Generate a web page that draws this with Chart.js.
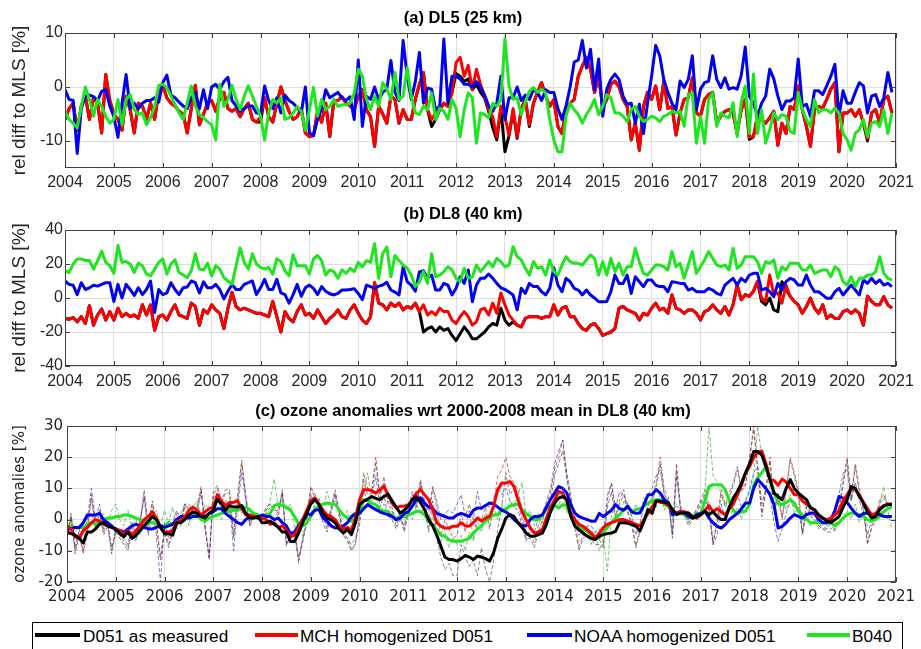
<!DOCTYPE html>
<html>
<head>
<meta charset="utf-8">
<script src="https://cdn.jsdelivr.net/npm/chart.js@4.4.1/dist/chart.umd.min.js"></script>
<style>
  html, body { margin:0; padding:0; background:#fff; }
  #fig { position:relative; width:921px; height:649px; overflow:hidden; background:#fff; }
  #fig canvas { position:absolute; left:0; }
  .ttl { position:absolute; transform:translateX(-50%); font:bold 16.5px "Liberation Sans", Arial, sans-serif; color:#000; white-space:nowrap; line-height:20px; }
  #legend { position:absolute; left:32px; top:622px; width:869px; height:40px; border:1px solid #000; background:#fff; font:17.2px "Liberation Sans", Arial, sans-serif; color:#000; }
  #legend .ln { position:absolute; top:10px; height:4px; }
  #legend .tx { position:absolute; top:3px; line-height:20px; white-space:nowrap; }
</style>
</head>
<body>
<div id="fig">
  <canvas id="chartA" width="921" height="195" style="top:0px"></canvas>
  <canvas id="chartB" width="921" height="195" style="top:195px"></canvas>
  <canvas id="chartC" width="921" height="225" style="top:390px"></canvas>
  <div class="ttl" style="left:463px; top:7px;">(a) DL5 (25 km)</div>
  <div class="ttl" style="left:463px; top:203px;">(b) DL8 (40 km)</div>
  <div class="ttl" style="left:473px; top:400px;">(c) ozone anomalies wrt 2000-2008 mean in DL8 (40 km)</div>
  <div id="legend">
    <div class="ln" style="left:2px; width:45px; background:#000000;"></div>
    <div class="tx" style="left:50px;">D051 as measured</div>
    <div class="ln" style="left:222px; width:43px; background:#ff0000;"></div>
    <div class="tx" style="left:267px;">MCH homogenized D051</div>
    <div class="ln" style="left:494px; width:45px; background:#0000ee;"></div>
    <div class="tx" style="left:541px;">NOAA homogenized D051</div>
    <div class="ln" style="left:774px; width:43px; background:#1ee61e;"></div>
    <div class="tx" style="left:819px;">B040</div>
  </div>
</div>
<script>
// ---------- AXES ----------
const START_YEAR = 2004;
const years = [2004,2005,2006,2007,2008,2009,2010,2011,2012,2013,2014,2015,2016,2017,2018,2019,2020,2021];
const yTicksA = [-10, 0, 10];
const yTicksB = [-40, -20, 0, 20, 40];
const yTicksC = [-20, -10, 0, 10, 20, 30];

// ---------- (a) DL5 (25 km), monthly, one row per year 2004..2020 ----------
const blackA = [
  -6,-4,-3,-8,-3.5,-1.7,-6,-2,-3,-8.5,2.3,-2.5,
  -5,-6,-8,-1.7,-4.2,-8.5,-3,-3.5,-6,-3,-6,-1,
  0.3,-2,-3,-3.5,-4.5,-5,-8.5,-4,0.3,-7,-5,-3,
  -2.5,-4.5,-2,-1,-4,-4.5,-4,-5.5,-4,-3,-6,-6.5,
  -6.5,-2,-5.5,-6.5,-3,0,-2.5,-4.5,-6,-5.5,-4,-8.5,
  -9.2,-9,-4.5,-6.5,-3,-9.2,-2.5,-2.5,-1.8,-3,-3.5,-4.2,
  -1.7,-0.5,-4.2,-5.5,-11,-3.5,-5,-6.7,-1.7,-2.3,-6.7,-4.2,
  -6,-6,-2.3,0.5,2.7,-4.2,-7.3,-6,-4.2,-3,-3.6,-1,
  2.5,2,1,1.5,-0.5,0.5,-1,-2,-4.5,-7.5,-9.8,-4,
  -12,-9,-4.5,-9.5,-4,-2.3,-7.3,-3,-1,0.8,-1.7,-3.6,
  -2.3,-7.3,-8.6,-4.2,-3,-2.3,2,3.9,5.5,3.3,-1,2,
  -3.6,-2.3,0.5,1.1,0,-2.3,-3.6,-9.8,-6.7,-11.7,-3.6,-1,
  -2.3,0.2,-4.2,1.1,-4,-3.6,-8.9,-4.8,-2.3,-2,1.7,-4.8,
  -5.4,-2.3,-1.4,-1,-6.7,-5.4,-4.5,-4.2,-4.8,-8.6,-4.2,-2.3,
  -9.7,-9.2,-5.4,-6,-6.7,-5.7,-4.5,-10.8,-6.7,-8.6,-3.6,-4.2,
  0.2,-4.2,-7.3,-11,-4.2,-3.6,-3.9,-2.3,-0.4,0.8,-12,-4.8,
  -4.8,-4.2,-5.4,-4.2,-6.7,-10,-4.8,-4.2,-6.7,-2.3,-1.7,-4.8
];
const redA = [
  -6,-4,-3,-8,-3.5,-1.7,-6,-2,-3,-8.5,2.3,-2.5,
  -5,-6,-8,-1.7,-4.2,-8.5,-3,-3.5,-6,-3,-6,-1,
  0.3,-2,-3,-3.5,-4.5,-5,-8.5,-4,0.3,-7,-5,-3,
  -2.5,-4.5,-2,-1,-4,-4.5,-4,-5.5,-4,-3,-6,-6.5,
  -5.5,-2,-5.5,-6.5,-3,0,-2.5,-4.5,-6,-5.5,-4,-8.5,
  -9.2,-9,-4.5,-6.5,-3,-9.2,-2.5,-2.5,-1.8,-3,-3.5,-4.2,
  -1.7,-0.5,-4.2,-5.5,-11,-3.5,-5,-6.7,-1.7,-2.3,-6.7,-4.2,
  -6,-6,-2.3,0.5,2.7,-4.2,-6,-4.8,-4.2,-3,-3.6,-1,
  4.5,5.5,2,4,-0.5,3.3,0.5,-1.7,-4.2,-5.5,-9.2,-3.5,
  -5.5,-9,-4,-9.2,-4,-2.3,-7,-3,-1,0.8,-1.7,-3.6,
  -2.3,-7.3,-8.6,-4.2,-3,-2.3,2,3.9,5.5,3.3,-1,2,
  -3.6,-2.3,0.5,1.1,0,-2.3,-3.6,-9.8,-6.7,-11.7,-3.6,-1,
  -2.3,0.2,-4.2,1.1,-4,-3.6,-8.9,-4.8,-2.3,-2,1.7,-4.8,
  -5.4,-2.3,-1.4,-1,-6.7,-5.4,-4.5,-4.2,-4.8,-8.6,-4.2,-2.3,
  -9.2,-9.2,-5.4,-6,-6.7,-5.7,-4.5,-10.8,-6.7,-8.6,-3.6,-4.2,
  0.2,-4.2,-7.3,-11,-4.2,-3.6,-3.9,-2.3,-0.4,0.8,-12,-4.8,
  -4.8,-4.2,-5.4,-4.2,-6.7,-9.5,-4.8,-4.2,-6.7,-2.3,-1.7,-4.8
];
const blueA = [
  -0.5,-2.3,-2.5,-12.3,-4,-1.7,-1.5,-1.8,-2.5,-0.8,-0.5,-3.5,
  -5.5,-9.3,-3,2.3,-4,-3,-4,-3,-2.5,-2.5,-2,-2.8,
  0.8,2.2,-1.5,-2,-2.8,-3.5,-4,-2,-1,-4,-0.5,-4,
  0,0.5,-0.5,1,1.8,-2.5,-3.5,-4.5,-4,-3.5,-3.5,-4.8,
  -5,0.2,-2.5,-4,-2,-4.8,-1.5,-2.5,-3,-3.8,-4.8,0,
  -8.5,-9,-6,-4,-0.5,-2,-1.5,-1,-2,-2.5,-1.8,-6,
  5,-7.3,-1.7,-2.3,0,-2.3,-1,-0.4,4.9,-1,-2.5,8.6,
  2,-2.3,1,6.4,-3,-0.2,-0.4,-4.2,-3.6,8.9,-3,2,
  2,1.5,0.5,0.5,0,1,0,-1.5,-3.5,-4.5,-3,2,
  -6,-2,-2,0,-2.5,-1.5,-2.3,-0.5,-1,-2.5,-0.5,-1,
  -1,-4,-6,-3.5,0,4.6,5,8.6,3.5,7,-0.5,5.2,
  -5.4,-0.4,1.4,2.4,1.4,-1.7,-3.2,-3,-6.7,-3.2,-8.6,-3,
  2,7.7,5.8,1.4,-1,-3,-4.2,1.1,-0.1,1.4,5.8,-4.2,
  -0.4,0.8,1.1,5.8,1.4,-0.1,1.7,-0.4,-0.1,-0.4,2.1,7.4,
  -1.7,-3,-5.4,-3,-1.7,3.3,1.5,-1.7,-4.2,-2.6,-2.6,-2,
  5.2,-3.6,-3.2,-5.4,-0.7,-0.7,-1.4,0.2,2,4.2,-5.4,-0.7,
  -3,-3,-1,0.8,0.2,-4.8,-1.7,-1.4,-3.6,-2,2.7,-1
];
const greenA = [
  -4.5,-6,-6.7,-7.6,-3.6,0,-2.3,-5.4,-2.3,-3.6,-5.4,-6.7,
  -6,-2.3,-7,-2.3,-1.4,-4.2,-5.1,-4.8,-7,-5.7,-3.6,0.3,
  0.5,-0.1,-1.7,-3.2,-4.8,-6,-3,0.2,-3.6,-5.1,-5.7,-6.4,
  -7,-9.8,0.5,-3.6,-2.3,0.3,-2.3,-4.2,-1.7,0.2,-1.7,-3.6,
  -5.4,-9.8,-4.8,-2.3,-3,-2,-6,-5.7,-4.8,-3.6,-4.5,-8,
  -4.2,-0.1,-5.4,-2.3,-4.2,-3.6,-2.3,-3.6,-3.3,-3.3,-3,-1.1,
  3.3,2,-2.3,-4.2,-1.7,-3.6,0.8,-0.4,-2.3,2.7,-2.3,-1.7,
  3.6,-1.7,-4.8,-5.1,-3.6,-4.2,-1.1,-6,-3.9,-4.5,-6,-2.3,
  -3.9,-9.2,-4.2,-1.1,-2,-10.4,-4.8,-5.1,-5.7,-3,-3.6,-2.3,
  8.9,0.2,-2.3,-2,-5.1,-2.8,-0.8,-0.1,-1,-0.4,-1.1,-6,
  -9.8,-12,-12,-5.4,-3,-4.2,-5.1,-6.7,-5.1,-3.9,-2.3,-5.1,
  -3.6,-1.4,-2,-4.8,-4.8,-5.4,-6.4,-4.2,-3.6,-5.4,-6.4,-6,
  -5.4,-5.7,-6.4,-5.4,-5.1,-4.5,-4.8,-4.5,-7.3,-1.4,-1.1,-10.4,
  -5.4,-10.4,-2.3,-1.1,-7.3,-4.8,-5.4,-5.7,-2.9,-9.2,-2.9,0.2,
  -8.6,2.4,-8.6,-4.2,-10.4,-7.9,-4.8,-6,-5.1,-5.4,-8.2,-8.6,
  -1,-4.2,-6,-7.3,-2.3,-4.8,-4.2,-4.2,-4.8,-3.9,-4.8,-8.6,
  -9.8,-11.7,-8.6,-7.9,-6,-9.2,-6.7,-6.4,-7.3,-4.2,-8.6,-4.8
];

// ---------- (b) DL8 (40 km) ----------
const blackB = [
  -12,-12.5,-11.5,-14,-11,-15,-4.5,-16,-10,-6.5,-13,-8,
  -13,-6,-11,-9,-11,-10,-12,-4,-10,-4,-19,-11,
  -10,-13,-8,-4,-10,-11,-12,-3,-5,-16,-7,-9,
  -4,-7,-9,-18,-6,3.3,-5,-7,-6,-7,-8,-9,
  -9,-10,-11,-2,-11,-20,-8,-12,-14,-8,-4,-10,
  -9,-12,-7,-11,-15,-12,-10,-7,-11,-12,-7,-4,
  -9,-13,-15,-11,9,-3,-4,-7,-3,-5,-3,-7,
  -5,-6,-3,-8,-20,-18,-17,-20,-17,-19,-18,-22,
  -25,-21,-17,-20,-24,-24,-22,-20,-17,-15,-16,-6,
  -13,-16,-14,-16,-17,-12,-11,-11,-11,-12,-11,-11,
  -4,-10,-6,-5,-11,-11,-15,-18,-19,-16,-15,-18,
  -22,-21,-20,-18,-6,-5,-7,-8,-9,-13,-9,-10,
  -6,-3,-7,-6,-9,1.8,-6,-7,-9,-7,-7,-9,
  -13,-8,-7,-4,-7,-9,-5,-10,-4,7.6,-1,2,
  1,4,9.6,-2,-4,0,-7,-8,9.6,5,1,-2,
  -4,-9,-5,0,-6,-9,-4,-12,-10,-12,-12,-8,
  -7,-9,-7,-9,-16,1,-2,-4,-4,0.8,-4,-6
];
const redB = [
  -12,-12.5,-11.5,-14,-11,-15,-4.5,-16,-10,-6.5,-13,-8,
  -13,-6,-11,-9,-11,-10,-12,-4,-10,-4,-19,-11,
  -10,-13,-8,-4,-10,-11,-12,-3,-5,-16,-7,-9,
  -4,-7,-9,-18,-6,3.3,-5,-7,-6,-7,-8,-9,
  -9,-10,-11,-2,-11,-20,-8,-12,-14,-8,-4,-10,
  -9,-12,-7,-11,-15,-12,-10,-7,-11,-12,-7,-4,
  -9,-13,-15,-11,9,-3,-4,-7,-3,-5,-3,-7,
  -5,-6,-3,-8,-4,-10,-8,-10,-6,-8,-8,-13,
  -15,-11,-8,-11,-16,-14,-7,-6,-10,-3,-9,3,
  -4,-10,-13,-16,-17,-12,-11,-11,-11,-12,-11,-11,
  -4,-10,-6,-5,-11,-11,-15,-18,-19,-16,-15,-18,
  -22,-21,-20,-18,-6,-5,-7,-8,-9,-13,-9,-10,
  -6,-3,-7,-6,-9,1.8,-6,-7,-9,-7,-7,-9,
  -13,-8,-7,-4,-7,-9,-5,-10,-4,7.6,-1,2,
  1,4,9.6,0,-2,13.5,2,3,-3,7.6,1,-2,
  -4,-9,-5,0,-6,-9,-4,-12,-10,-12,-12,-8,
  -7,-9,-7,-9,-16,1,-2,-4,-4,0.8,-4,-6
];
const blueB = [
  10,8,7.5,2,9,5,6,7.5,7,8,9,9,
  -2,8,0,8,5,1.5,6,2,5,10,-8.5,5,
  2,3,9,5,2,6,6.5,10,9,3,9.5,6,
  6,8,5,-0.5,4,8,5,5,8,9,10,2,
  6,11,5,5,11,3,2,-3,2,8,1,6,
  7.6,5.7,2,6.7,4,2.5,1.8,2.7,4.7,4.7,5,5.5,
  2.7,-1,7.6,6.7,5.7,7,7.6,9.2,4.7,3.5,1.8,18.4,
  9.6,7.6,4,15.3,16,11.6,13.5,4.7,4.7,8.6,7.6,1.8,
  5.7,12.5,8.6,16.5,-2.2,7.6,11.6,11.6,14.1,11.6,8.6,6,
  5,3.5,1.8,-7,5.7,2.7,8.6,6.7,6.7,3.7,1.8,5.7,
  17.8,7.6,3.7,11.6,9.6,5.7,4.7,1.8,4.7,1.8,0,-2.2,
  -2.2,-2,3.7,13.5,8.6,8.6,13.5,2.7,12.5,9.6,6.7,10.6,
  10.6,7.6,6.7,6.7,3.7,9.6,9.2,8.6,8.6,4.7,5.7,3.7,
  3.7,3.7,5.7,4.7,2.7,1.8,7.6,9.6,11.6,7.6,11.6,9.6,
  13.5,14.5,14.5,4.7,5.7,3.7,0.8,8.6,4.7,9.6,11.6,10.6,
  7.6,7.6,13.5,7.6,3.7,3.7,1.8,-0.2,-0.2,3.7,5.7,1.8,
  4.7,7.6,4.7,1.8,10.6,8.6,11.6,8.6,10.6,7.6,8.6,6.7
];
const greenB = [
  16,15,20,23,23,22,22,17,22,27.5,21,19,
  14.5,31,21,21.5,20,15,20.5,19,14,13,17,21,
  23,14,20,22.5,15,13.5,12,16,26,17,16.5,20.5,
  13,19,17,12,10,8,19,29.5,21,17,26,20,
  18,17,18,14,23,21.5,16,13,25.5,19,19,19,
  14,23,25,22,13.5,16.5,15.5,11.6,16.5,14.5,17.5,15.5,
  21,18.4,22,21,32,11.6,26,30,12.5,25,22,19.4,
  17.5,13.5,6.7,9.6,15.5,8.6,26,12.5,13.5,15.5,18.4,16.5,
  11.6,9.6,17.5,11.6,12.5,19.4,15.5,18.4,21.4,18.4,23.3,21.4,
  18.4,19.4,30.2,24.3,22.4,17.5,13.5,21.4,17.5,18.4,13.5,22.4,
  15.5,13.5,19.4,24.3,21.4,20.4,20.4,19.4,22.4,25.3,23.3,13.5,
  21.4,13.5,23.3,15.5,20.4,13.5,18.4,18.4,29.2,21.4,14.5,13.5,
  16.5,19.4,19.4,18.4,16.5,27.3,18.4,20.4,11.6,19.4,27.3,14.5,
  18.4,22.4,27.3,23.3,19.4,18.4,19.4,16.5,29.2,17.5,19.4,24.3,
  24.3,24.3,21.4,14.5,21.4,20.4,22.4,11.6,18.4,16.5,20.4,20.4,
  20.4,16.5,16.5,19.4,14.5,15.5,16.5,16.5,12.5,18.4,16.5,9.6,
  7.6,12.5,6.7,11.6,11.6,13.5,13.5,15.5,24.3,14.5,11.6,10.6
];

// ---------- (c) ozone anomalies, smoothed (thick) ----------
const blackC = [
  -4,-4.5,-5,-6,-7.5,-4,-4,-3,-1.5,-1,-2,-2.5,
  -3,-4.5,-5.5,-4,-6,-5,-3.5,-2,-0.5,1,0,-2.5,
  -4.5,-4.5,-5,-1,-1,0,1.5,2.5,2,1,0.5,2,
  3,6.5,5,3,4.5,4,4,4.5,2,0.5,0.5,1,
  -1,-1,-0.5,-1.5,-2.5,-4,-4,-7,-7,-4.3,-1,2,
  5,6.4,4.8,2,0.5,0,-1,-3,-4.3,-3.2,-4.8,-1,
  4.8,5.9,6.5,7.4,6.8,6.4,7.4,8.2,6,4,2.1,3,
  4.3,6.4,7.4,5.5,3.2,0,-2,-5,-8.5,-12,-12.8,-12.8,
  -13.3,-12.5,-11.5,-12,-12.8,-11.7,-12,-12.5,-13.3,-10.6,-6,-3,
  0.5,1.6,1,-1,-2.5,-4.3,-5.3,-5.3,-4.8,-4.3,-1.5,2.5,
  5.3,6.9,7.4,6.4,1,-2.1,-3.2,-4.3,-5.3,-6,-6.4,-5.3,
  -4.8,-4.5,-4.3,-3.8,-1,-1,-1.2,-1.6,-2.1,-3.7,-0.5,3.2,
  2,6,6,5.5,5.3,3.2,1.6,2.1,2.1,2.1,0.5,1,
  1.6,2.7,1.6,2.5,1,0,0,4,7,9,11.7,15,
  18,21.8,21.8,20.7,17,12.8,8.5,7.4,6.4,10.1,12.8,10,
  8.5,7.4,6.4,3.7,3.2,1.5,0.5,-0.5,-1,0,1,4,
  6.4,10.6,10,7.4,5.3,2.5,0.5,1,3.2,4.3,4.8,4.8
];
const redC = [
  -2,-3,-5.5,-6,-3.5,-2.5,-1,0,-0.5,-1.5,-2,-2.5,
  -3,-3.5,-5,-3.5,-5,-3.5,-2,0,1,2.5,0.5,-2.5,
  -4,-4,-3.5,-0.5,-0.5,1,3,4,3,1.5,2.5,3.5,
  4,8,6,4.5,5.5,5.5,6,3.5,1.5,1.5,1,0.5,
  0.5,0,-1.5,-1,-2.5,-2,-3.5,-5.5,-5,-2.5,0,3,
  6,7,5,3,1.5,1,0,-2,-3,-2.5,-3.5,0.5,
  6.4,9.6,9.6,9.2,8.5,9.6,10.6,8,5.3,3.7,4.3,4.3,
  4.8,6.4,8.5,9.6,8,6.4,3.2,-1,-2.1,-2.7,-2.7,-2.1,
  -2.1,-1,-2,-2.1,-1,0.5,-0.5,0.5,1,4.3,9.6,11.7,
  11.7,12.2,10.6,6.4,2.5,0,-2.7,-4.3,-4,-3.2,0.5,4,
  6.4,9,8.5,6,2,0,-1.6,-2.1,-3.2,-4.3,-5.9,-4.3,
  -2.5,-1.5,-1,-0.5,0,0,-0.5,-1,-1.5,-2,0,2,
  4,6,5.5,5.5,4.5,3,2,2.5,2.5,2,1,0.5,
  1.5,3,4.5,2.5,3.5,2.5,1.5,3.5,5,8,11,15,
  17,20,21.5,22,18,13,12.5,11,13,12,10,8,
  8,6,5,4,3,1,0.5,0,0.5,1.5,3,6,
  8,10,9.5,8,5.5,3.5,1.5,2,3.5,4.5,5,5
];
const blueC = [
  -3,-3,-2.5,-2.5,-1,1.5,1.5,1.5,2,0,-1,-2,
  -3.5,-3.5,-4,-3,-2,-1.5,-2,-2.5,-3,-3,-2.5,-2,
  -2.5,-2,-1.5,0,1,1,0.5,1,1,1.5,1,2,
  2.5,3.5,3.5,2,1,0,-1,-1.5,0,1,1,0.5,
  1.5,1,1,0,0.5,-1,-2,-4.5,-4,-2,0,2,
  1.5,3,3.2,0.5,-0.5,-2,-2.7,-2.7,-2,-1,1,2,
  2,3.5,4.8,4,3.2,2.5,2,1.6,1,0,0.5,2,
  2.5,4.3,6.5,7,5.3,4,3.5,2,1.5,1,0.5,0.5,
  1.5,2,1.5,1,3,3.7,3.7,4.5,5.3,5,4,3,
  2.5,1.5,0,-1,-2,-2,0,1,1,1.5,4,6.5,
  8.5,10.6,10,8.5,4.8,2.1,1,0.5,0,-0.5,-0.5,2,
  1,2,3,4.8,3.5,3,4.3,2.5,2,2.1,4.8,8,
  8,9.6,8.5,6.4,5.3,1.6,2.1,2.7,2.1,1,0.5,1.6,
  2,2.7,0.5,-1,-2.2,-2.7,-1.6,0,1,2,3.5,5.3,
  5.3,10,12.8,11.5,10,8,4.8,-2.7,-2.2,-1,0.5,1.6,
  1,0.5,1.6,2.1,2.1,0,-1,-1,0,3,7.4,6.9,
  5.5,3.7,2,1,2,2,1.6,1.6,1.6,1,1,1
];
const greenC = [
  -2,-2,-2.5,-2.5,-2.5,-1.5,-1,-1.5,-1,0,0.5,0.5,
  1,1,1.5,1.5,1,0.5,0,-0.5,-1,-1,-1.5,-2,
  -2,-1,-1.5,-1,0,0.5,1.5,2,1.5,0,-0.5,0.5,
  1,1.5,2,3,2.5,3,3,3.5,4,3,2,1.5,
  1,1.5,2,4.5,5,4.5,4,3,1,-1.5,-2,-1,
  1,3.2,4.3,5,5.3,5,4.8,3.2,1.5,0.5,-0.5,1.5,
  2,6.4,6,5.3,4.8,3.2,2.7,2.7,1,0.5,1,1,
  1.5,2,2.7,2.5,1.5,-0.5,-1.6,-3.2,-5,-5.3,-6.4,-6.9,
  -6.9,-6.9,-6.5,-6,-4.3,-3,-2,-0.5,0.5,1.5,1.6,3,
  3.5,4.3,4.8,4.8,3.2,2,1,0,0,1.5,3.5,4.3,
  4.5,3.7,4.8,4.5,1,-1,-2.1,-3,-3.7,-5.3,-5.9,-5.9,
  -4,-2.5,-1,0.5,1.6,3.2,3.7,2.7,3.2,3.5,4.3,5.3,
  5.9,6.4,6.4,4.8,4.3,3,2.1,2.1,1.5,0.5,1,2,
  2,6,10.6,11.2,11.2,11.2,9.6,6,2.7,2.1,2.5,2.7,
  5,11,13.5,15,17,13.3,9,5.3,4.8,5.5,6.4,5.3,
  2.7,1.5,0,-1,-1,-1,-1,-1,-1,-2,-1,0.5,
  1.6,2.1,2.1,1.6,1,0,-0.5,0,1,2.5,3.5,4.3
];

// ---------- (c) monthly values (thin) ----------
const blackCm = [
  -7,1,-11,-5,-11,-4,7,-3,2,-5,-2,-11,
  -4,-6,-8,-10,-4,-7,-1,8,-3,5,-2,-13,
  -4,-9,-4,1,-2,4,4,2,3,9.6,-3,-13,
  8,10,5,8.5,8.5,-6,7,18,7,-2,1,0,
  0,2,4,3,1,8.5,-8.5,-5,-4,-14,-7,0,
  10,7,5,1,-3,3,8.5,2,-5,-7,-10,-8,
  1,13,8,8.5,18,7,12,5,3,-2,1,-4,
  2,7,4,11,4,-4,6,-6,-12,-16,-14,-18,
  -18,-8,-12,-15,-13,-18,-9,-16,-20,-13,-3,4,
  15,8,10,5,0,-6,-6,-9,-4,0,3,6,
  14,18,22,13,6,-3,-10,-6,-5,-6,-8,-8,
  -9,4,9,0,5,8,2,-2,-9,-4,0,3,
  5,10,18,8,6,-5,16,3,1,-2,0,2,
  5,8,3,-8,-1,8,4,7,11,16,9,11,
  19,29,16,1,9,19,3,7,0,9,19,14,
  8,-5,4,1,0,-2,-3,-4,-4,-3,3,11,
  19,6,17,9,3,-8,-3,0,5,7,4,3
];
const redCm = [
  -6,2,-10,-4,-10,-3,8,-2,3,-4,-1,-10,
  -3,-5,-7,-9,-3,-6,0,9.6,-2,6,-1,-12,
  -3,-8,-3,2,-1,5,5,3,4,10.6,-2,-12,
  9,11,6,9.6,9.6,-5,8,19,8,-1,2,1,
  1,3,5,4,2,9.6,-7.4,-4,-3,-13,-6,1,
  10.6,8,6.4,2,-2,4,9.6,3,-4.3,-6,-9.6,-7.4,
  2,15,10,9.6,20,8,13.8,6,4,-1,2,-3,
  3,8,5,12.8,6,-1,10.6,4,-5.3,0,-3,-6,
  -5,2,-4,3,-6,1,0,4,-3,5,13.8,16,
  20,13.8,12,9.6,3,-5.3,-4,-7.4,-2,2,5,8.5,
  16,20,25.5,15,8,-1,-8.5,-5,-3.2,-4,-6,-6.4,
  -8.5,6.4,11.7,1,6.4,9.6,3,-1,-8.5,-3,1,4.3,
  6.4,12,20,9.6,7.4,-4.3,18,4.3,2,-1,1,3.7,
  6.4,9.6,4.8,-7.4,0,9.6,4.8,8.5,12,17,9.6,11.7,
  20,30,16,2,10,20,4,8.5,1,10,20,15,
  9.6,-4.3,5.3,2,1,-1,-2,-3,-3,-2,4,12,
  20,7.4,18,10,4,-7.4,-2,1,6.4,8,5,4
];
const blueCm = [
  -6,1,-9,-3,-8,0,10,0,5,-3,-1,-9,
  -4,-5,-6,-8,-1,-5,-1,7,-5,3,-5,-20,
  -1,-6,-1,3,0,5,3,1,2,9,-3,-12,
  7,8,2,6,6,-10,4,15,6,-2,2,1,
  1,4,5,3,3,9,-8,-5,-4,-12,-7,-1,
  8,4,4,-1,-4,2,8,1,-5,-6,-8,-6,
  -2,10,5,7,14,4,8,1,0,-3,0,-2,
  4,9,4,12,4,3,10,6,0,2,3,2,
  5,8,1,5,0,9,3,5,4,7,10,8,
  10,6,4,3,-2,-7,-2,-4,0,2,6,10,
  18,22,25.5,14,6,1,-5,-4,-2,-2,-4,-3,
  -5,8,11.7,4,9,8,5,1,-5,-1,4,8,
  10,14,16,8,6,-6,14,3,2,0,1,3,
  6,7,3,-8,-5,5,0,3,5,8,4,6,
  10,15,17,5,10,8,-1,-7,-3,2,6,4,
  3,-4,2,1,2,-2,-3,-3,-1,2,8,15,
  16,6,12,6,2,-5,0,1,2,3,0,1
];
const greenCm = [
  -3,0,-4,-2,-5,0,2,-3,0,2,-2,3,
  5,0,-2,3,-3,0,-5,1,-4,0,3,-2,
  3,-1,4,-3,2,5,-2,4,6,1,5,3,
  6,2,0,4,3,6,7,2,5,4,0,2,
  -1,3,6,13,4,7,3,5,-3,0,-5,-2,
  2,5,7,3,9,4,6,2,0,3,-3,2,
  4,9,15,6,8,2,5,1,3,-1,2,0,
  3,0,5,2,4,-3,1,-5,-7,-4,-9,-6,
  -8,-5,-10,-4,-7,-1,-4,2,-2,4,0,5,
  2,6,4,8,12,1,3,-2,2,-1,5,3,
  7,4,9,2,4,-2,0,-5,-2,-8,-4,-10,
  -6,-16.5,2,3,0,6,4,1,5,2,7,4,
  8,4,9,3,7,0,5,1,3,-1,2,0,
  3,9,30,14,12,8,5,3,1,4,0,6,
  9,14,30,20,15,10,6,4,7,3,8,2,
  4,-1,2,-2,0,-3,1,-2,0,-4,1,0,
  3,0,5,-1,2,-2,1,0,5,10.6,3,-3
];

// ---------- Style ----------
const BLACK = '#000000', RED = '#ff0000', BLUE = '#0000ee', GREEN = '#1ee61e';
const GRID = '#dedede', AXIS = '#404040', TXT = '#262626';
const ARIAL = '"Liberation Sans", Arial, sans-serif';
const DEJAVU = '"DejaVu Sans", sans-serif';

// ---------- Helpers ----------
const monthly = arr => arr.map((v, i) => ({ x: START_YEAR + i / 12, y: v }));
const line = (arr, color, order, width, dash) => ({
  data: monthly(arr), borderColor: color, borderWidth: width, order,
  borderDash: dash || [], pointRadius: 0, fill: false, tension: 0
});

// box round the axes plus small inward tick marks
const frameBox = {
  id: 'frameBox',
  afterDatasetsDraw(chart) {
    const { ctx, chartArea: a } = chart;
    const xs = chart.scales.x, ys = chart.scales.y;
    ctx.save();
    ctx.strokeStyle = AXIS;
    ctx.lineWidth = 1;
    ctx.beginPath();
    xs.ticks.forEach(t => {
      const px = Math.round(xs.getPixelForValue(t.value)) + 0.5;
      ctx.moveTo(px, a.bottom); ctx.lineTo(px, a.bottom - 5);
      ctx.moveTo(px, a.top); ctx.lineTo(px, a.top + 5);
    });
    ys.ticks.forEach(t => {
      const py = Math.round(ys.getPixelForValue(t.value)) + 0.5;
      ctx.moveTo(a.left, py); ctx.lineTo(a.left + 5, py);
      ctx.moveTo(a.right, py); ctx.lineTo(a.right - 5, py);
    });
    ctx.stroke();
    ctx.strokeRect(a.left + 0.5, a.top + 0.5, a.right - a.left - 1, a.bottom - a.top - 1);
    ctx.restore();
  }
};

function makePanel(id, p) {
  return new Chart(document.getElementById(id), {
    type: 'line',
    data: { datasets: p.datasets },
    options: {
      responsive: false,
      animation: false,
      devicePixelRatio: 1,
      layout: { padding: { top: p.top, right: p.right, left: 0, bottom: 0 } },
      plugins: { legend: { display: false }, tooltip: { enabled: false }, title: { display: false } },
      elements: { line: { borderJoinStyle: 'round' } },
      scales: {
        x: {
          type: 'linear', min: 2004, max: 2021,
          afterBuildTicks: ax => { ax.ticks = years.map(v => ({ value: v })); },
          afterFit: ax => { ax.height = p.xHeight; },
          grid: { color: GRID, drawTicks: false },
          border: { display: false },
          ticks: { autoSkip: false, maxRotation: 0, padding: p.xPad, color: TXT,
                   font: { family: p.family, size: p.tickSize }, callback: v => String(v) }
        },
        y: {
          type: 'linear', min: p.yMin, max: p.yMax,
          afterBuildTicks: ax => { ax.ticks = p.yTicks.map(v => ({ value: v })); },
          afterFit: ax => { ax.width = p.yWidth; },
          grid: { color: GRID, drawTicks: false },
          border: { display: false },
          ticks: { padding: p.yPad, color: TXT, font: { family: p.family, size: p.tickSize } },
          title: { display: true, text: p.yTitle, color: TXT,
                   font: { family: p.family, size: p.titleSize }, padding: { top: p.titlePad, bottom: 0 } }
        }
      }
    },
    plugins: [frameBox]
  });
}

// ---------- Charts ----------
makePanel('chartA', {
  datasets: [
    line(greenA, GREEN, 1, 3), line(blueA, BLUE, 2, 3),
    line(redA, RED, 3, 3), line(blackA, BLACK, 4, 3)
  ],
  top: 33, right: 25, xHeight: 27, yWidth: 65, xPad: 5, yPad: 2,
  yMin: -15, yMax: 10, yTicks: yTicksA, family: ARIAL, tickSize: 16,
  yTitle: 'rel diff to MLS [%]', titleSize: 19, titlePad: 8
});

makePanel('chartB', {
  datasets: [
    line(greenB, GREEN, 1, 3), line(blueB, BLUE, 2, 3),
    line(redB, RED, 3, 3), line(blackB, BLACK, 4, 3)
  ],
  top: 35, right: 25, xHeight: 24, yWidth: 65, xPad: 6, yPad: 2,
  yMin: -40, yMax: 40, yTicks: yTicksB, family: ARIAL, tickSize: 16,
  yTitle: 'rel diff to MLS [%]', titleSize: 19, titlePad: 8
});

makePanel('chartC', {
  datasets: [
    line(blackC, BLACK, 1, 3), line(redC, RED, 2, 3),
    line(blueC, BLUE, 3, 3), line(greenC, GREEN, 4, 3),
    line(greenCm, 'rgba(60,170,60,0.85)', 10, 0.8, [4, 2]),
    line(blueCm, 'rgba(50,50,170,0.8)', 11, 0.8, [4, 2]),
    line(redCm, 'rgba(160,40,40,0.8)', 12, 0.8, [4, 2]),
    line(blackCm, 'rgba(40,40,40,0.7)', 13, 0.8, [4, 2])
  ],
  top: 36, right: 22, xHeight: 33, yWidth: 67, xPad: 6, yPad: 4,
  yMin: -20, yMax: 30, yTicks: yTicksC, family: DEJAVU, tickSize: 15,
  yTitle: 'ozone anomalies [%]', titleSize: 15, titlePad: 11
});
</script>
</body>
</html>
